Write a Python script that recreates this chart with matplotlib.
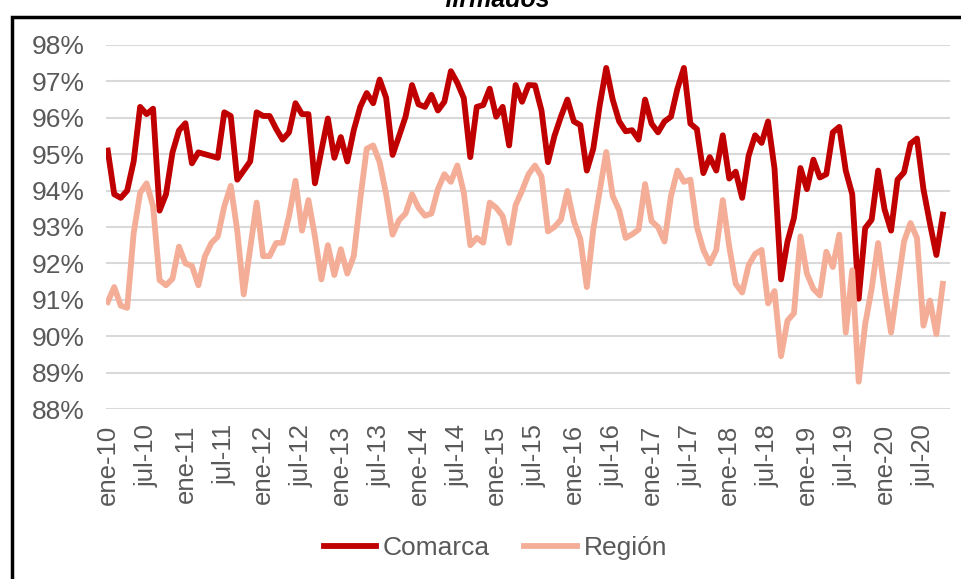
import matplotlib.pyplot as plt
from matplotlib.patches import Rectangle
from matplotlib.ticker import FuncFormatter
from matplotlib.transforms import ScaledTranslation

plt.rcParams['font.family'] = ['Liberation Sans', 'DejaVu Sans']

# meses ene-10 .. oct-20
meses = ['ene', 'feb', 'mar', 'abr', 'may', 'jun', 'jul', 'ago', 'sep', 'oct', 'nov', 'dic']
fechas = [f'{m}-{a:02d}' for a in range(10, 21) for m in meses][:130]

comarca = [
    95.1, 93.9, 93.8, 94.0, 94.8, 96.3, 96.1, 96.25, 93.45, 93.9, 95.05, 95.65,
    95.85, 94.75, 95.05, 95.0, 94.95, 94.9, 96.15, 96.05, 94.3, 94.55, 94.8, 96.15,
    96.05, 96.05, 95.7, 95.4, 95.6, 96.4, 96.1, 96.1, 94.2, 95.1, 95.98, 94.9,
    95.47, 94.8, 95.66, 96.3, 96.68, 96.4, 97.05, 96.55, 94.98, 95.5, 96.03, 96.9,
    96.37, 96.3, 96.63, 96.2, 96.44, 97.28, 96.96, 96.54, 94.92, 96.3, 96.35, 96.8,
    96.03, 96.3, 95.24, 96.9, 96.44, 96.9, 96.89, 96.2, 94.78, 95.5, 96.03, 96.5,
    95.9, 95.8, 94.55, 95.15, 96.35, 97.37, 96.5, 95.9, 95.63, 95.66, 95.4, 96.5,
    95.84, 95.6, 95.9, 96.03, 96.8, 97.37, 95.84, 95.69, 94.48, 94.92, 94.55, 95.52,
    94.33, 94.52, 93.8, 94.96, 95.52, 95.31, 95.9, 94.6, 91.56, 92.6, 93.25, 94.62,
    94.04, 94.85, 94.36, 94.45, 95.6, 95.75, 94.55, 93.9, 91.03, 92.97, 93.2, 94.55,
    93.48, 92.9, 94.3, 94.5, 95.29, 95.43, 94.04, 93.1, 92.23, 93.34,
]

region = [
    90.94, 91.35, 90.84, 90.78, 92.83, 93.94, 94.2, 93.57, 91.54, 91.4, 91.58, 92.46,
    92.0, 91.93, 91.4, 92.19, 92.56, 92.74, 93.57, 94.13, 92.9, 91.15, 92.4, 93.67,
    92.2, 92.2, 92.56, 92.57, 93.3, 94.27, 92.9, 93.74, 92.74, 91.56, 92.5, 91.68,
    92.39, 91.72, 92.2, 93.76, 95.15, 95.24, 94.78, 93.9, 92.79, 93.19, 93.37, 93.9,
    93.53, 93.31, 93.37, 94.04, 94.45, 94.24, 94.69, 93.94, 92.5, 92.7, 92.57, 93.67,
    93.53, 93.3, 92.56, 93.6, 94.0, 94.45, 94.69, 94.39, 92.88, 93.0, 93.2, 93.99,
    93.16, 92.67, 91.35, 92.93, 94.0, 95.06, 93.85, 93.46, 92.7, 92.8, 92.93, 94.18,
    93.16, 93.0, 92.6, 93.85, 94.55, 94.24, 94.3, 93.0, 92.37, 92.0, 92.37, 93.74,
    92.46, 91.44, 91.2, 91.95, 92.26, 92.37, 90.9, 91.24, 89.45, 90.43, 90.63, 92.74,
    91.72, 91.3, 91.12, 92.32, 91.9, 92.79, 90.1, 91.81, 88.75, 90.33, 91.3, 92.56,
    91.26, 90.1, 91.35, 92.6, 93.11, 92.7, 90.29, 90.98, 90.06, 91.44,
]

gris = '#595959'

fig = plt.figure(figsize=(9.62, 5.79), dpi=100)
ax = fig.add_axes([0.110, 0.2936, 0.8775, 0.6287])

x = range(len(fechas))
ax.plot(x, comarca, color='#C00000', lw=4.2, label='Comarca', solid_joinstyle='round')
ax.plot(x, region, color='#F4AE98', lw=4.2, label='Región', solid_joinstyle='round')

ax.set_ylim(88, 98)
ax.set_yticks(range(88, 99))
ax.yaxis.set_major_formatter(FuncFormatter(lambda v, p: f'{v:.0f}%'))
ax.set_xlim(-0.3, 130.1)
ticks = list(range(0, len(fechas), 6))
ax.set_xticks(ticks)
ax.set_xticklabels([fechas[i] for i in ticks], rotation=90)
# etiquetas un poco a la derecha como en excel
desplaza = ScaledTranslation(4 / 72, 0, fig.dpi_scale_trans)
for lab in ax.get_xticklabels():
    lab.set_transform(lab.get_transform() + desplaza)

ax.grid(axis='y', color='#d9d9d9', lw=1.5)
ax.set_axisbelow(True)
for s in ax.spines.values():
    s.set_visible(False)
ax.tick_params(axis='y', length=0, labelsize=19, colors=gris, pad=15)
ax.tick_params(axis='x', length=0, labelsize=18.5, colors=gris, pad=11)

ax.legend(loc='center', bbox_to_anchor=(0.515, (579 - 548) / 579), bbox_transform=fig.transFigure,
          ncol=2, frameon=False, fontsize=19, labelcolor=gris, handlelength=2.0,
          handletextpad=0.25, columnspacing=1.3)

# titulo cortado arriba
fig.text(0.517, 1 - 7 / 579, 'firmados', ha='center', va='baseline',
         fontsize=18, fontweight='bold', fontstyle='italic', color='black')

# marco
fig.patches.append(Rectangle((11.5 / 962, -0.05), 1.0, 1.05 - 16.5 / 579, transform=fig.transFigure,
                             fill=False, edgecolor='black', lw=2.5))

plt.savefig('out.png', dpi=100)
